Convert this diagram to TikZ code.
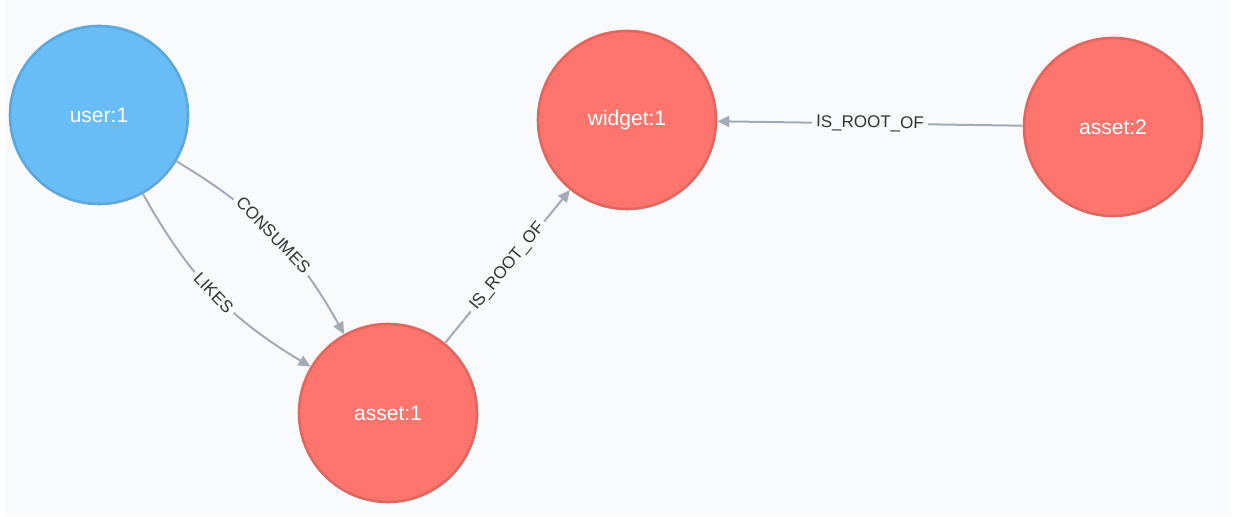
\documentclass[tikz,border=0pt]{standalone}
\usepackage{fontspec}
\setmainfont{Liberation Sans}
\usepackage{tikz}
\usetikzlibrary{positioning,arrows.meta}

\definecolor{bgpanel}{HTML}{F9FAFC}
\definecolor{userfill}{HTML}{68BDF6}
\definecolor{userline}{HTML}{5CA8DB}
\definecolor{assetfill}{HTML}{FF756E}
\definecolor{assetline}{HTML}{E06760}
\definecolor{relline}{HTML}{A5ABB6}
\definecolor{reltext}{HTML}{333333}

\tikzset{
    entity/.style={circle, line width=1.3pt, minimum size=89pt,
        text=white, font=\fontsize{10.5}{12}\selectfont},
    userent/.style={entity, fill=userfill, draw=userline},
    assetent/.style={entity, fill=assetfill, draw=assetline},
    rel/.style={->, relline, line width=1pt},
    rellabel/.style={fill=bgpanel, text=reltext, inner sep=2pt,
        font=\fontsize{8.5}{10}\selectfont, sloped}
}

\begin{document}
\begin{tikzpicture}[x=0.5pt, y=-0.5pt, >={Triangle[length=6pt,width=5.5pt]}]
        \useasboundingbox (0,0) rectangle (1234,517);
        \fill[bgpanel] (5,0) rectangle (1229,515);

        \node[userent] (user1) at (99,115) {user:1};
        \node[assetent] (widget1) at (627,120) {widget:1};
        \node[assetent] (asset2) at (1113,127) {asset:2};
        \node[assetent] (asset1) at (388,413) {asset:1};

        \draw[rel] (user1) to[bend left=15] node[rellabel] {CONSUMES} (asset1);
        \draw[rel] (user1) to[bend right=15] node[rellabel] {LIKES} (asset1);
        \draw[rel] (asset1) to node[rellabel] {IS\_ROOT\_OF} (widget1);
        \draw[rel] (asset2) to node[rellabel] {IS\_ROOT\_OF} (widget1);
    \end{tikzpicture}
\end{document}
